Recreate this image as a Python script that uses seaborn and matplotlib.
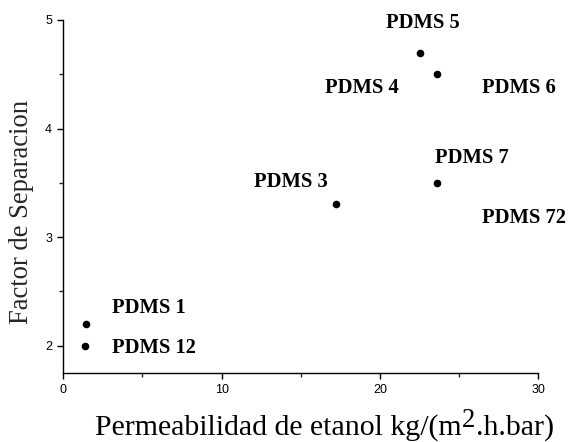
import matplotlib
matplotlib.use("Agg")
import matplotlib.pyplot as plt
from matplotlib.ticker import MultipleLocator
import pandas as pd
import seaborn as sns

# Membrane samples: ethanol permeability vs. separation factor
membranes = ["PDMS 5", "PDMS 6", "PDMS 7", "PDMS 3", "PDMS 1", "PDMS 12"]
permeability = [22.5, 23.6, 23.6, 17.2, 1.45, 1.4]
separation = [4.7, 4.5, 3.5, 3.3, 2.2, 2.0]

# Text labels placed around the points (label, x, y in data units)
label_names = ["PDMS 5", "PDMS 4", "PDMS 6", "PDMS 7", "PDMS 3", "PDMS 72", "PDMS 1", "PDMS 12"]
label_x = [22.72, 18.85, 28.78, 25.78, 14.35, 29.07, 5.38, 5.73]
label_y = [4.972, 4.374, 4.374, 3.729, 3.508, 3.176, 2.347, 1.979]

df = pd.DataFrame({"membrane": membranes, "perm": permeability, "sep": separation})

sns.set_style("ticks")
plt.rcParams["font.family"] = ["Liberation Sans", "DejaVu Sans"]

fig = plt.figure(figsize=(5.68, 4.42), dpi=100)
ax = fig.add_axes([0.1114, 0.1568, 0.8363, 0.798])

sns.scatterplot(data=df, x="perm", y="sep", ax=ax, color="black",
                s=30, edgecolor="black", linewidth=0, legend=False, zorder=3)

for name, lx, ly in zip(label_names, label_x, label_y):
    ax.text(lx, ly, name, ha="center", va="center", fontsize=14.8,
            fontweight="bold", family="Liberation Serif", color="black",
            clip_on=False)

ax.set_xlim(0, 30)
ax.set_ylim(1.75, 5)
ax.xaxis.set_major_locator(MultipleLocator(10))
ax.xaxis.set_minor_locator(MultipleLocator(5))
ax.yaxis.set_major_locator(MultipleLocator(1))
ax.yaxis.set_minor_locator(MultipleLocator(0.5))
ax.tick_params(axis="both", which="major", direction="out", length=4.5,
               width=1, labelsize=9, colors="black")
ax.tick_params(axis="x", which="major", pad=4)
ax.tick_params(axis="y", which="major", pad=3.5)
ax.tick_params(axis="both", which="minor", direction="out", length=3, width=1)

for side in ["top", "right"]:
    ax.spines[side].set_visible(False)
for side in ["left", "bottom"]:
    ax.spines[side].set_linewidth(1)
    ax.spines[side].set_color("black")

# y axis title
ax.set_ylabel("Factor de Separacion", family="Liberation Serif", fontsize=19.2)
ax.yaxis.set_label_coords(-0.062, 0.4556)

# x axis title, with a full-height raised "2" for m²
ax.set_xlabel("")
serif = dict(family="Liberation Serif", color="black")
t1 = fig.text(95 / 568, 7.5 / 442, "Permeabilidad de etanol kg/(m",
              ha="left", va="baseline", fontsize=21.5, **serif)
t2 = ax.annotate("2", xy=(1, 0), xycoords=t1, xytext=(0.3, 5.8),
                 textcoords="offset points", ha="left", va="bottom",
                 fontsize=19.3, annotation_clip=False, **serif)
t3 = ax.annotate(".h.bar)", xy=(1, 0), xycoords=t2, xytext=(0.3, -5.8),
                 textcoords="offset points", ha="left", va="bottom",
                 fontsize=21.5, annotation_clip=False, **serif)

fig.savefig("out.png", dpi=100)
